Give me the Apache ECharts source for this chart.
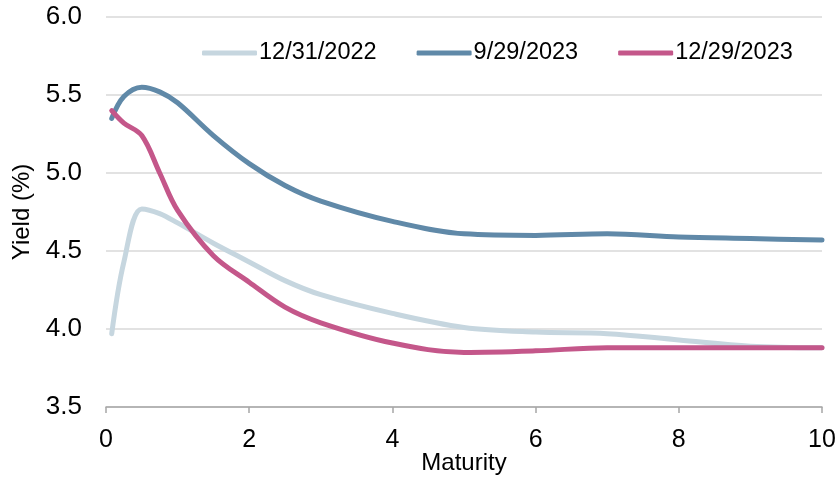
<!DOCTYPE html>
<html>
<head>
<meta charset="utf-8">
<script src="https://cdn.jsdelivr.net/npm/echarts@6/dist/echarts.min.js"></script>
<style>html,body{margin:0;padding:0;background:#fff}#c{width:839px;height:478px}</style>
</head>
<body>
<div id="c"></div>
<script>
var maturity = [0.08, 0.25, 0.5, 0.75, 1, 1.5, 2, 2.5, 3, 4, 5, 6, 7, 8, 9, 10];
var y2022 = [3.97, 4.43, 4.77, 4.74, 4.68, 4.55, 4.43, 4.31, 4.22, 4.10, 4.01, 3.98, 3.97, 3.93, 3.89, 3.88];
var y2023sep = [5.35, 5.49, 5.55, 5.52, 5.45, 5.24, 5.06, 4.92, 4.82, 4.69, 4.61, 4.60, 4.61, 4.59, 4.58, 4.57];
var y2023dec = [5.40, 5.32, 5.24, 5.00, 4.76, 4.47, 4.30, 4.14, 4.04, 3.91, 3.85, 3.86, 3.88, 3.88, 3.88, 3.88];
var seriesNames = ['12/31/2022', '9/29/2023', '12/29/2023'];
var colors = ['#c6d6df', '#6089a8', '#c4578a'];
var yTicks = [3.5, 4.0, 4.5, 5.0, 5.5, 6.0];
var xTicks = [0, 2, 4, 6, 8, 10];

function pairs(ys) { return maturity.map(function (x, i) { return [x, ys[i]]; }); }
var allY = [y2022, y2023sep, y2023dec];
var FONT = 'Liberation Sans, Arial, sans-serif';

var chart = echarts.init(document.getElementById('c'));
chart.setOption({
  animation: false,
  grid: { left: 106, right: 17, top: 17, bottom: 71, containLabel: false, outerBoundsMode: 'none' },
  legend: {
    left: 197, top: 34,
    icon: 'roundRect', itemWidth: 55, itemHeight: 5, itemGap: 40,
    textStyle: { fontFamily: FONT, fontSize: 23.5, color: '#000', lineHeight: 28, padding: [0, 0, 0, -3] },
    data: seriesNames
  },
  xAxis: {
    type: 'value', min: xTicks[0], max: xTicks[xTicks.length - 1], interval: 2,
    name: 'Maturity', nameLocation: 'middle', nameGap: 43, nameMoveOverlap: false,
    nameTextStyle: { fontFamily: FONT, fontSize: 24, color: '#000', verticalAlign: 'top', lineHeight: 26 },
    axisLine: { show: true, lineStyle: { color: '#a6a6a6', width: 1.5 } },
    axisTick: { show: true, length: 6, lineStyle: { color: '#a6a6a6', width: 1.5 } },
    axisLabel: { fontFamily: FONT, fontSize: 25, color: '#000', margin: 21 },
    splitLine: { show: false }
  },
  yAxis: {
    type: 'value', min: yTicks[0], max: yTicks[yTicks.length - 1], interval: 0.5,
    name: 'Yield (%)', nameLocation: 'middle', nameGap: 72, nameMoveOverlap: false,
    nameTextStyle: { fontFamily: FONT, fontSize: 24, color: '#000' },
    axisLine: { show: false }, axisTick: { show: false },
    axisLabel: { fontFamily: FONT, fontSize: 26, color: '#000', margin: 24,
      formatter: function (v) { return v.toFixed(1); } },
    splitLine: { lineStyle: { color: '#d9d9d9', width: 1.5 } }
  },
  series: seriesNames.map(function (n, i) {
    return {
      name: n, type: 'line', smooth: 0.35, symbol: 'none',
      data: pairs(allY[i]),
      itemStyle: { color: colors[i] },
      lineStyle: { color: colors[i], width: 5, cap: 'round', join: 'round' },
      z: i === 0 ? 1 : (i === 2 ? 3 : 2)
    };
  })
});
</script>
</body>
</html>
